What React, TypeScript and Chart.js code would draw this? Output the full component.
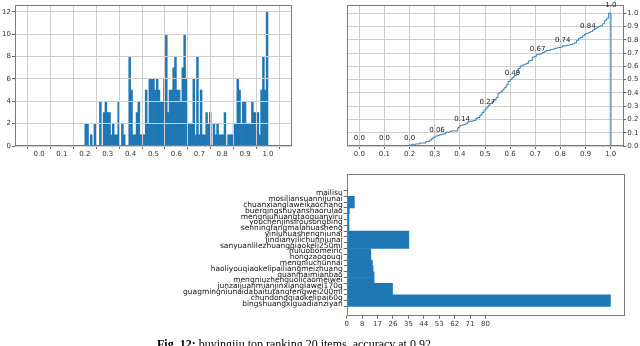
import React, { useEffect, useRef } from 'react';
import { Chart, registerables } from 'chart.js';
Chart.register(...registerables);

const FONT = "'DejaVu Sans', sans-serif";

// ---------- data ----------
const histBinStart = 0.2;
const histBinWidth = 0.008;
const histCounts = [
  2, 2, 0, 1, 0, 2, 0, 0, 4, 0,
  3, 4, 3, 3, 1, 2, 1, 1, 4, 0,
  2, 1, 0, 0, 8, 5, 1, 1, 3, 4,
  1, 1, 1, 5, 2, 6, 6, 6, 5, 6,
  5, 4, 4, 6, 10, 3, 5, 5, 7, 8,
  5, 5, 4, 7, 10, 6, 2, 2, 2, 6,
  1, 8, 1, 5, 1, 1, 3, 2, 3, 0,
  2, 1, 2, 1, 1, 1, 3, 0, 1, 1,
  1, 2, 2, 6, 5, 2, 4, 4, 2, 2,
  2, 4, 3, 3, 3, 1, 5, 8, 5, 12,
];
const unitTicks = [0, 0.1, 0.2, 0.3, 0.4, 0.5, 0.6, 0.7, 0.8, 0.9, 1.0];
const histYTicks = [0, 2, 4, 6, 8, 10, 12];
const cdfLabelText = ['0.0', '0.0', '0.0', '0.06', '0.14', '0.27', '0.49', '0.67', '0.74', '0.84', '1.0'];
const cdfLabelValues = [0, 0, 0, 0.06, 0.14, 0.27, 0.49, 0.67, 0.74, 0.84, 1.0];

const productNames = [
  'mailisu',
  'mosiliansuannijunai',
  'chuanxianglaweikaochang',
  'buerqingshuyanshaorulao',
  'mengniuhuangtaoguanyiru',
  'youchenjinsirousongbing',
  'senningfangmalahuasheng',
  'yinluhuashengniunai',
  'jindianyilichunniunai',
  'sanyuanlilezhuangqiaokeli250ml',
  'huluobomeiric',
  'hongzaogouqi',
  'mengniuchunnai',
  'haoliyouqiaokelipailiangmeizhuang',
  'quanmaimianbao',
  'mengniuzhenguolicaomeiwei',
  'junzaijuanmianjinxianglawei170g',
  'guagmingniunaidabaitutangfengwei200ml',
  'chundongqiaokelipai60g',
  'bingshuangxiguadianziyan',
];
const productCounts = [
  0.6, 4.4, 4.4, 1.5, 1.3, 1.3, 1.3, 35.8, 35.8, 35.8,
  13.9, 13.9, 14.8, 15.2, 15.8, 15.8, 26.4, 26.4, 152, 152,
];
const countTickLabels = ['0', '8', '17', '26', '35', '44', '53', '62', '71', '80'];
const countTickMax = 80;

// ---------- plugins ----------
const framePlugin = {
  id: 'frame',
  afterDatasetsDraw(chart: any) {
    const { ctx, chartArea: a } = chart;
    if (chart.options.plugins.frame && chart.options.plugins.frame.gridOnTop) {
      Object.values(chart.scales).forEach((s: any) => {
        if (s.options.grid && s.options.grid.display) s.drawGrid(a);
      });
    }
    ctx.save();
    ctx.strokeStyle = '#7a7a7a';
    ctx.lineWidth = 1;
    ctx.strokeRect(Math.round(a.left) + 0.5, Math.round(a.top) + 0.5, Math.round(a.right - a.left) - 1, Math.round(a.bottom - a.top) - 1);
    ctx.restore();
  },
};

const cdfTextPlugin = {
  id: 'cdfText',
  afterDatasetsDraw(chart: any) {
    const { ctx } = chart;
    const xs = chart.scales.x;
    const ys = chart.scales.y;
    ctx.save();
    ctx.font = `7px ${FONT}`;
    ctx.fillStyle = '#222';
    ctx.textAlign = 'left';
    ctx.textBaseline = 'middle';
    cdfLabelText.forEach((t, i) => {
      const px = xs.getPixelForValue(unitTicks[i]);
      const py = ys.getPixelForValue(cdfLabelValues[i]);
      ctx.fillText(t, px - 5.5, py - 8);
    });
    ctx.restore();
  },
};

const tickFont = { family: FONT, size: 7 };

function useChart(ref: React.RefObject<HTMLCanvasElement>, makeConfig: () => any) {
  useEffect(() => {
    if (!ref.current) return;
    const c = new Chart(ref.current, makeConfig());
    return () => c.destroy();
  }, []);
}

function histConfig() {
  return {
    type: 'bar',
    data: {
      datasets: [
        {
          data: histCounts.map((c, i) => ({ x: histBinStart + histBinWidth * (i + 0.5), y: c })),
          backgroundColor: '#1f77b4',
          borderWidth: 0,
          barPercentage: 1,
          categoryPercentage: 1,
        },
      ],
    },
    options: {
      animation: false,
      responsive: false,
      events: [],
      layout: { padding: { top: 4, right: 8, left: 0, bottom: 0 } },
      plugins: { legend: { display: false }, tooltip: { enabled: false }, frame: { gridOnTop: true } },
      scales: {
        x: {
          type: 'linear',
          min: -0.05,
          max: 1.05,
          afterBuildTicks: (s: any) => { s.ticks = unitTicks.map((v) => ({ value: v })); },
          afterFit: (s: any) => { s.height = 14; },
          ticks: { callback: (v: any) => Number(v).toFixed(1), font: tickFont, color: '#333', padding: 1, maxRotation: 0, autoSkip: false },
          grid: { color: '#cfcfcf', tickColor: '#666', tickLength: 3, lineWidth: 1 },
          border: { display: false },
        },
        y: {
          type: 'linear',
          min: 0,
          max: 12.6,
          afterBuildTicks: (s: any) => { s.ticks = histYTicks.map((v) => ({ value: v })); },
          afterFit: (s: any) => { s.width = 15; },
          ticks: { font: tickFont, color: '#333', padding: 1, autoSkip: false },
          grid: { color: '#cfcfcf', tickColor: '#666', tickLength: 3, lineWidth: 1 },
          border: { display: false },
        },
      },
    },
    plugins: [framePlugin],
  };
}

function cdfConfig() {
  const total = histCounts.reduce((a, b) => a + b, 0);
  let acc = 0;
  const pts: { x: number; y: number }[] = [{ x: histBinStart, y: 0 }];
  histCounts.forEach((c, i) => {
    acc += c;
    pts.push({ x: histBinStart + histBinWidth * i, y: acc / total });
  });
  const end = histBinStart + histBinWidth * histCounts.length;
  pts.push({ x: end, y: 1 });
  return {
    type: 'line',
    data: {
      datasets: [
        { data: pts, stepped: true, borderColor: '#2b7bba', borderWidth: 1, pointRadius: 0, fill: false },
        { data: [{ x: end, y: 0 }, { x: end, y: 1 }], borderColor: 'rgba(31,119,180,0.45)', borderWidth: 2.4, pointRadius: 0, fill: false },
      ],
    },
    options: {
      animation: false,
      responsive: false,
      events: [],
      layout: { padding: { top: 4, right: 0, left: 26.7, bottom: 0 } },
      plugins: { legend: { display: false }, tooltip: { enabled: false } },
      scales: {
        x: {
          type: 'linear',
          min: -0.05,
          max: 1.05,
          afterBuildTicks: (s: any) => { s.ticks = unitTicks.map((v) => ({ value: v })); },
          afterFit: (s: any) => { s.height = 14; },
          ticks: { callback: (v: any) => Number(v).toFixed(1), font: tickFont, color: '#333', padding: 1, maxRotation: 0, autoSkip: false },
          grid: { color: '#cfcfcf', tickColor: '#666', tickLength: 3, lineWidth: 1 },
          border: { display: false },
        },
        y: {
          type: 'linear',
          position: 'right',
          min: 0,
          max: 1.06,
          afterBuildTicks: (s: any) => { s.ticks = unitTicks.map((v) => ({ value: v })); },
          afterFit: (s: any) => { s.width = 16.7; },
          ticks: { callback: (v: any) => Number(v).toFixed(1), font: tickFont, color: '#333', padding: 1, autoSkip: false },
          grid: { color: '#cfcfcf', tickColor: '#666', tickLength: 3, lineWidth: 1 },
          border: { display: false },
        },
      },
    },
    plugins: [framePlugin, cdfTextPlugin],
  };
}

function barConfig() {
  const n = productNames.length;
  return {
    type: 'bar',
    data: {
      datasets: [
        {
          data: productCounts.map((v, k) => ({ x: v, y: n - 1 - k })),
          backgroundColor: '#1f77b4',
          borderWidth: 0,
          barPercentage: 1,
          categoryPercentage: 1,
        },
      ],
    },
    options: {
      indexAxis: 'y',
      animation: false,
      responsive: false,
      events: [],
      layout: { padding: { top: 14, right: 15.7, left: 0, bottom: 0 } },
      plugins: { legend: { display: false }, tooltip: { enabled: false } },
      scales: {
        x: {
          type: 'linear',
          min: 0,
          max: 160,
          afterBuildTicks: (s: any) => { s.ticks = countTickLabels.map((_, i) => ({ value: (i * countTickMax) / (countTickLabels.length - 1) })); },
          afterFit: (s: any) => { s.height = 22.3; },
          ticks: { callback: (_v: any, i: number) => countTickLabels[i], font: tickFont, color: '#333', padding: 1, maxRotation: 0, autoSkip: false },
          grid: { display: true, drawOnChartArea: false, tickColor: '#666', tickLength: 3 },
          border: { display: false },
        },
        y: {
          type: 'linear',
          min: -1.48,
          max: 21.75,
          afterBuildTicks: (s: any) => { s.ticks = productNames.map((_, i) => ({ value: i })); },
          afterFit: (s: any) => { s.width = 346.7; },
          ticks: { callback: (v: any) => productNames[n - 1 - Number(v)], font: { family: FONT, size: 7.5 }, color: '#111', padding: 1, autoSkip: false },
          grid: { display: true, drawOnChartArea: false, tickColor: '#666', tickLength: 3 },
          border: { display: false },
        },
      },
    },
    plugins: [framePlugin],
  };
}

export default function App() {
  const r1 = useRef<HTMLCanvasElement>(null);
  const r2 = useRef<HTMLCanvasElement>(null);
  const r3 = useRef<HTMLCanvasElement>(null);
  useChart(r1, histConfig);
  useChart(r2, cdfConfig);
  useChart(r3, barConfig);
  return (
    <div style={{ position: 'fixed', left: 0, top: 0, width: 640, height: 346, background: '#fff', overflow: 'hidden' }}>
      <canvas ref={r1} width={300} height={160} style={{ position: 'absolute', left: 0, top: 0, width: 300, height: 160 }} />
      <canvas ref={r2} width={320} height={160} style={{ position: 'absolute', left: 320, top: 0, width: 320, height: 160 }} />
      <canvas ref={r3} width={640} height={178} style={{ position: 'absolute', left: 0, top: 160, width: 640, height: 178 }} />
      <div style={{ position: 'absolute', left: 157, top: 337, fontFamily: "'Liberation Serif', serif", fontSize: 12, whiteSpace: 'nowrap', color: '#000' }}>
        <b>Fig. 12:</b> buyingjiu top ranking 20 items, accuracy at 0.92
      </div>
    </div>
  );
}
